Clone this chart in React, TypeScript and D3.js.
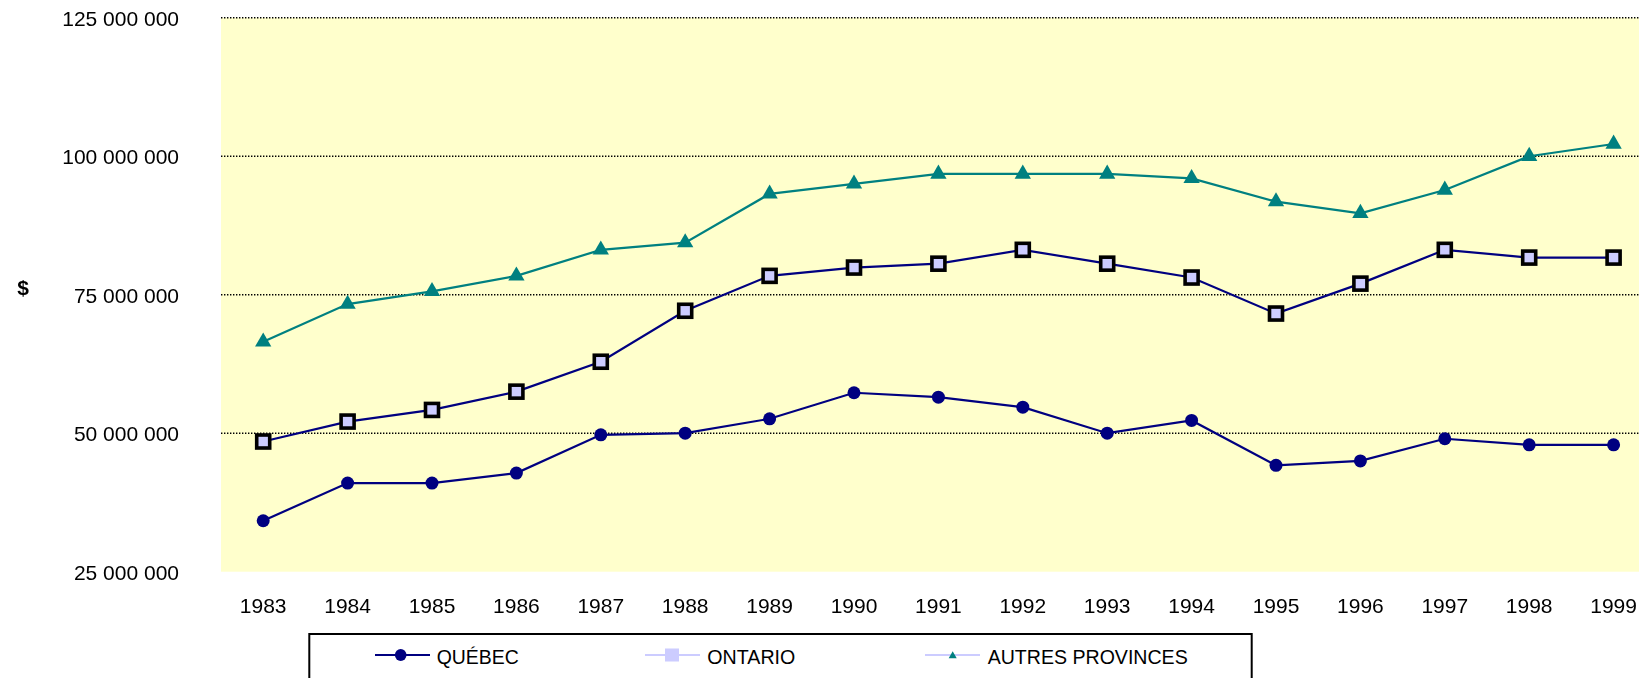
import * as d3 from 'd3'

const years = ['1983', '1984', '1985', '1986', '1987', '1988', '1989', '1990', '1991', '1992', '1993', '1994', '1995', '1996', '1997', '1998', '1999']
const quebec = [34.2, 41.0, 41.0, 42.8, 49.7, 50.0, 52.6, 57.3, 56.5, 54.7, 50.0, 52.3, 44.2, 45.0, 49.0, 47.9, 47.9].map(v => v * 1e6)
const ontario = [48.5, 52.1, 54.2, 57.5, 62.9, 72.1, 78.4, 79.9, 80.6, 83.1, 80.6, 78.1, 71.6, 77.0, 83.1, 81.7, 81.7].map(v => v * 1e6)
const autres = [66.5, 73.3, 75.6, 78.4, 83.1, 84.4, 93.2, 95.0, 96.8, 96.8, 96.8, 96.0, 91.8, 89.7, 93.9, 100.0, 102.2].map(v => v * 1e6)
const yTicks = [25e6, 50e6, 75e6, 100e6, 125e6]
const legendLabels = ['QUÉBEC', 'ONTARIO', 'AUTRES PROVINCES']

const W = 1639
const H = 678
const plot = { left: 221, right: 221 + 17 * 84.4, top: 17.7, bottom: 571.7 }
const font = 'Arial, "Liberation Sans", sans-serif'

const navy = '#000080'
const teal = '#008080'
const lav = '#ccccff'

const fmt = (v: number) => d3.format(',')(v).replace(/,/g, ' ')

const App = () => {
    const x = d3.scalePoint<string>().domain(years).range([plot.left, plot.right]).padding(0.5)
    const y = d3.scaleLinear().domain([25e6, 125e6]).range([plot.bottom, plot.top])

    const line = d3.line<number>()
        .x((_, i) => x(years[i]) as number)
        .y(d => y(d))

    const tri = d3.symbol().type(d3.symbolTriangle).size(115)()
    const triSmall = d3.symbol().type(d3.symbolTriangle).size(28)()

    return (
        <svg width={W} height={H} style={{ position: 'fixed', left: 0, top: 0 }} fontFamily={font}>
            <rect x={plot.left} y={plot.top} width={plot.right - plot.left} height={plot.bottom - plot.top} fill="#ffffcc" />

            {yTicks.map(t => (
                <g key={t}>
                    {t > 25e6 && (
                        <line x1={plot.left} x2={plot.right} y1={y(t)} y2={y(t)}
                            stroke="#000" strokeWidth={1.4} strokeDasharray="1.4 1.6" />
                    )}
                    <text x={179} y={y(t) + 8} textAnchor="end" fontSize={21} fill="#000">{fmt(t)}</text>
                </g>
            ))}

            {years.map(yr => (
                <text key={yr} x={x(yr)} y={612.5} textAnchor="middle" fontSize={21} fill="#000">{yr}</text>
            ))}

            <text x={23} y={295} textAnchor="middle" fontSize={21} fontWeight="bold" fill="#000">$</text>

            <path d={line(autres) || ''} fill="none" stroke={teal} strokeWidth={2.2} />
            <path d={line(ontario) || ''} fill="none" stroke={navy} strokeWidth={2.2} />
            <path d={line(quebec) || ''} fill="none" stroke={navy} strokeWidth={2.2} />

            {quebec.map((v, i) => (
                <circle key={'q' + i} cx={x(years[i])} cy={y(v)} r={6.5} fill={navy} />
            ))}
            {ontario.map((v, i) => (
                <rect key={'o' + i} x={(x(years[i]) as number) - 6.5} y={y(v) - 6.5} width={13} height={13}
                    fill={lav} stroke="#000" strokeWidth={3.6} />
            ))}
            {autres.map((v, i) => (
                <path key={'a' + i} d={tri || ''} transform={`translate(${x(years[i])},${y(v)})`} fill={teal} />
            ))}

            <rect x={309.3} y={634} width={1251.7 - 309.3} height={60} fill="#fff" stroke="#000" strokeWidth={2} />

            <line x1={375} x2={430} y1={655} y2={655} stroke={navy} strokeWidth={2} />
            <ellipse cx={400.7} cy={655} rx={5.8} ry={6} fill={navy} />
            <text x={436.7} y={664} fontSize={21} textLength={82} lengthAdjust="spacingAndGlyphs">{legendLabels[0]}</text>

            <line x1={645} x2={700} y1={655} y2={655} stroke={lav} strokeWidth={2} />
            <rect x={665} y={648.5} width={14} height={13} fill={lav} />
            <text x={707.3} y={664} fontSize={21} textLength={88} lengthAdjust="spacingAndGlyphs">{legendLabels[1]}</text>

            <line x1={925} x2={980} y1={655} y2={655} stroke={lav} strokeWidth={2} />
            <path d={triSmall || ''} transform="translate(952.7,656)" fill={teal} />
            <text x={987.7} y={664} fontSize={21} textLength={200} lengthAdjust="spacingAndGlyphs">{legendLabels[2]}</text>
        </svg>
    )
}

export default App
